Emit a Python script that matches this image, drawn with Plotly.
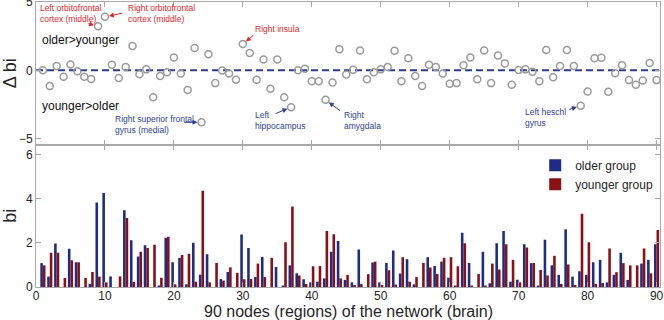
import plotly.graph_objects as go

# ---------------- data ----------------
nodes = list(range(1, 91))

delta_bi = [0.00, -1.16, 0.31, -0.48, 0.43, -0.07, -0.48, -0.63, 3.24, 3.93,
            0.41, -0.56, 0.24, 1.79, -0.29, 0.07, -1.98, -0.41, -0.14, 0.94,
            -0.24, -1.45, 1.64, -3.82, 1.18, -0.94, -0.02, -0.24, -0.70, 1.93,
            1.28, -0.70, 0.80, -1.35, 0.80, -1.98, -2.71, 0.00, 0.12, -0.80,
            -0.80, -2.17, -0.89, 1.55, -0.31, 0.05, 1.45, -0.65, -0.14, 0.07,
            0.24, 1.43, -0.80, 0.89, -0.41, -1.16, 0.41, 0.24, -0.24, -0.99,
            -0.94, 0.38, 0.94, -0.65, 1.45, -0.94, 1.09, 0.51, -1.06, 0.02,
            0.07, -0.10, -0.80, 1.50, -0.51, 0.31, 1.50, 0.31, -2.61, -1.55,
            0.89, 0.92, -1.57, -0.22, 0.38, -0.72, -1.06, -0.75, 0.53, -0.72]

older_bi = [1.08, 0.47, 1.97, 0.00, 1.73, 1.12, 0.00, 0.14, 3.83, 4.26,
            0.48, 0.00, 3.47, 2.12, 1.38, 1.89, 0.00, 0.05, 2.23, 1.12,
            1.32, 0.12, 2.00, 0.56, 1.48, 0.00, 0.36, 0.68, 0.00, 2.38,
            1.76, 0.45, 1.36, 0.00, 0.91, 0.06, 0.98, 0.62, 0.35, 0.21,
            0.24, 0.39, 1.59, 2.08, 0.32, 0.21, 1.70, 0.00, 1.11, 0.21,
            1.09, 1.65, 0.61, 1.26, 0.12, 0.00, 1.35, 0.95, 1.15, 0.42,
            0.06, 2.45, 1.09, 0.00, 1.59, 0.17, 1.98, 2.53, 0.24, 0.33,
            1.94, 1.08, 0.05, 2.14, 0.98, 0.55, 2.61, 0.47, 0.71, 0.55,
            1.12, 1.23, 0.21, 0.55, 1.55, 0.32, 0.00, 1.06, 1.23, 1.94]

younger_bi = [0.98, 1.55, 1.55, 0.41, 1.21, 1.12, 0.41, 0.68, 0.47, 0.21,
              0.00, 0.48, 3.12, 0.23, 1.59, 1.76, 1.91, 0.42, 2.27, 0.12,
              1.45, 1.50, 0.24, 4.36, 0.21, 1.09, 0.29, 0.89, 0.64, 0.35,
              0.36, 1.06, 0.45, 1.32, 0.00, 2.02, 3.64, 0.52, 0.14, 0.94,
              0.95, 2.53, 2.39, 0.39, 0.55, 0.09, 0.14, 0.58, 1.15, 0.09,
              0.76, 0.11, 1.35, 0.24, 0.45, 1.09, 0.88, 0.59, 1.32, 1.35,
              0.94, 1.98, 0.05, 0.59, 0.05, 1.06, 0.79, 1.94, 1.23, 0.21,
              1.79, 1.09, 0.77, 0.52, 1.41, 0.14, 1.02, 0.09, 3.32, 2.03,
              0.14, 0.18, 1.74, 0.67, 1.08, 0.98, 0.98, 1.74, 0.62, 2.58]

x_ticks = [0, 10, 20, 30, 40, 50, 60, 70, 80, 90]
y_ticks_top = [-5, 0, 5]
y_ticks_bottom = [0, 2, 4, 6]

series_names = ["older group", "younger group"]
x_title = "90 nodes (regions) of the network (brain)"

annot_nodes = [9, 10, 24, 30, 37, 42, 79]
annot_texts = ["Left orbitofrontal<br>cortex (middle)",
               "Right orbitofrontal<br>cortex (middle)",
               "Right superior frontal<br>gyrus (medial)",
               "Right insula",
               "Left<br>hippocampus",
               "Right<br>amygdala",
               "Left heschl<br>gyrus"]

# ---------------- styling / layout positions ----------------
FONT = "Liberation Sans, Arial, Helvetica, sans-serif"
BLUE = "#1d2d86"
RED = "#8a1015"
ANN_RED = "#e3262b"
ANN_BLUE = "#2c3f96"
FRAME = "#a8a8a8"
TXT = "#262626"

# (label x, label y, arrow ax px, arrow ay px, colour) for each annotation
annot_style = [
    (0.25, 4.15, -11, -3, ANN_RED),
    (13.0, 4.15, 19, -4, ANN_RED),
    (11.1, -4.0, -19, 0, ANN_BLUE),
    (31.4, 3.05, 12, -10, ANN_RED),
    (31.5, -3.65, -17, 7, ANN_BLUE),
    (44.4, -3.65, 16, 12, ANN_BLUE),
    (70.7, -3.5, -13, 4, ANN_BLUE),
]

fig = go.Figure()

fig.add_trace(go.Scatter(
    x=nodes, y=delta_bi, mode="markers", showlegend=False,
    marker=dict(symbol="circle-open", size=7, color="#9a9a9a",
                line=dict(width=1.5, color="#9a9a9a")),
    xaxis="x2", yaxis="y2"))

fig.add_trace(go.Bar(x=nodes, y=older_bi, name=series_names[0],
                     marker=dict(color=BLUE, line=dict(width=0)),
                     xaxis="x", yaxis="y"))
fig.add_trace(go.Bar(x=nodes, y=younger_bi, name=series_names[1],
                     marker=dict(color=RED, line=dict(width=0)),
                     xaxis="x", yaxis="y"))

axis_common = dict(showline=True, linecolor=FRAME, linewidth=1, mirror="ticks",
                   ticks="inside", ticklen=5, tickcolor=FRAME, showgrid=False,
                   zeroline=False, automargin=False, ticklabeloverflow="allow",
                   tickfont=dict(family=FONT, size=12, color=TXT))

fig.update_layout(
    width=664, height=320,
    margin=dict(l=36, r=4, t=2, b=33),
    paper_bgcolor="white", plot_bgcolor="white",
    barmode="group", bargap=0.25, bargroupgap=0.0,
    font=dict(family=FONT, color=TXT),
    xaxis=dict(domain=[0, 1], anchor="y", range=[0, 90.5], tickvals=x_ticks,
               ticklabelstandoff=-2, **axis_common),
    yaxis=dict(domain=[0, 0.5], anchor="x", range=[0, 6.45], tickvals=y_ticks_bottom,
               title=dict(text="bi", font=dict(family=FONT, size=18, color=TXT),
                          standoff=4),
               **axis_common),
    xaxis2=dict(domain=[0, 1], anchor="y2", range=[0, 90.5], tickvals=x_ticks,
                showticklabels=False, **axis_common),
    yaxis2=dict(domain=[0.5, 1], anchor="x2", range=[-5.45, 5.02], tickvals=y_ticks_top,
                title=dict(text="Δ bi", font=dict(family=FONT, size=18, color=TXT),
                           standoff=1),
                **axis_common),
    legend=dict(x=0.8, y=0.478, xanchor="left", yanchor="top",
                bgcolor="rgba(255,255,255,0)", borderwidth=0,
                font=dict(family=FONT, size=12, color=TXT),
                itemwidth=30, tracegroupgap=0),
)

# x-axis title (placed below the tick labels)
fig.add_annotation(x=0.5, y=0, xref="paper", yref="paper", text=x_title,
                   showarrow=False, xanchor="center", yanchor="top", yshift=-15,
                   borderpad=0, font=dict(family=FONT, size=16, color=TXT))

# dashed zero line on the delta panel
fig.add_shape(type="line", xref="x2", yref="y2", x0=0, x1=90.5, y0=0, y1=0,
              line=dict(color="#2b3d8c", width=2, dash="7px,4px"), layer="below")

# region text
fig.add_annotation(x=0.55, y=2.2, xref="x2", yref="y2", text="older>younger",
                   showarrow=False, xanchor="left", yanchor="middle",
                   font=dict(family=FONT, size=12, color="#111111"))
fig.add_annotation(x=0.55, y=-2.62, xref="x2", yref="y2", text="younger>older",
                   showarrow=False, xanchor="left", yanchor="middle",
                   font=dict(family=FONT, size=12, color="#111111"))

for n, txt, (lx, ly, ax, ay, col) in zip(annot_nodes, annot_texts, annot_style):
    fig.add_annotation(x=lx, y=ly, xref="x2", yref="y2", text=txt, showarrow=False,
                       xanchor="left", yanchor="middle", align="left",
                       font=dict(family=FONT, size=8.5, color=col))
    fig.add_annotation(x=n, y=delta_bi[n - 1], xref="x2", yref="y2", text="",
                       showarrow=True, ax=ax, ay=ay, arrowcolor=col,
                       arrowhead=2, arrowsize=1, arrowwidth=1, standoff=4)

fig.write_html("out.html",
               config={"displayModeBar": False},
               post_script="document.body.style.margin='0';"
                           "document.body.style.overflow='hidden';")
